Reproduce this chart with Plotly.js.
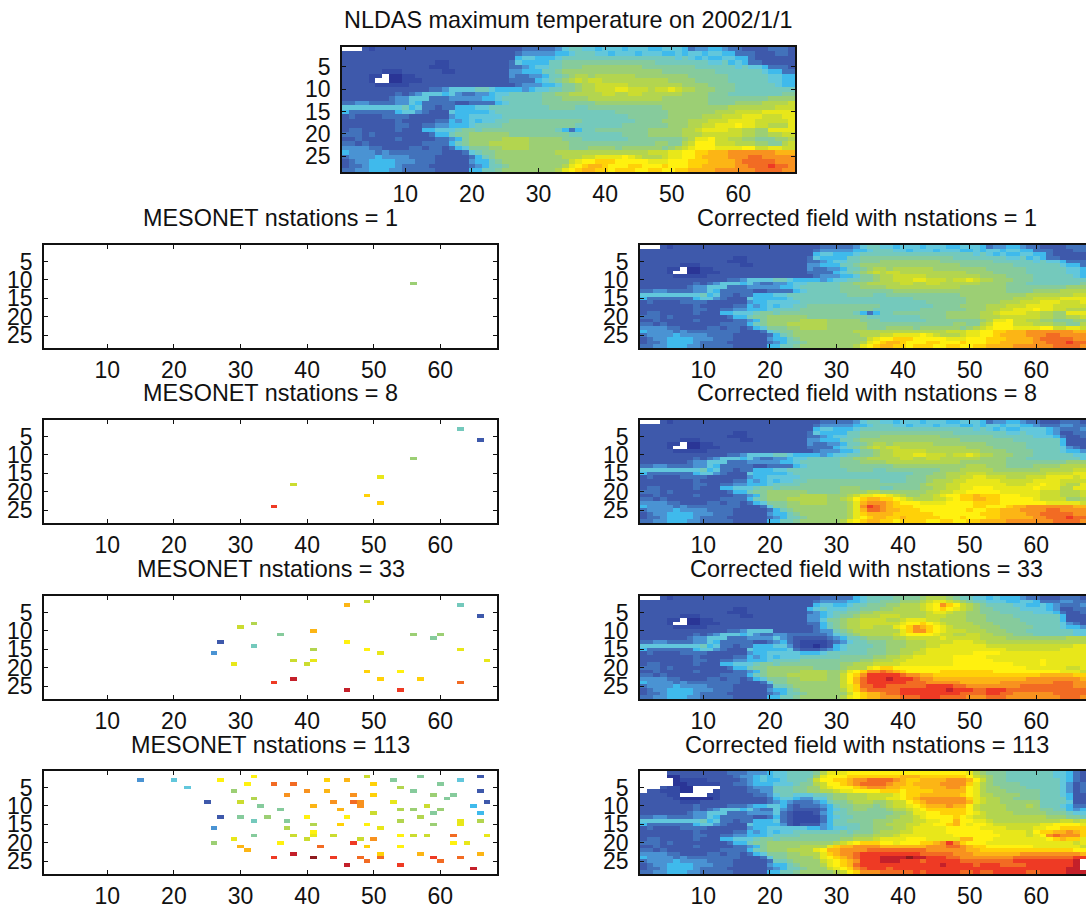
<!DOCTYPE html>
<html>
<head>
<meta charset="utf-8">
<script src="https://cdn.plot.ly/plotly-3.0.1.min.js"></script>
<style>html,body{margin:0;padding:0;background:#fff;overflow:hidden;width:1086px;height:905px}#g{width:1110px;height:905px}</style>
</head>
<body>
<div id="g"></div>
<script>
const levelCodes = 'abcdefghijklmnopqrstu';
const levelColors = ['#2a3596','#344aa4','#3e59ab','#4272bb','#4a93d3','#3fbaec','#62c7dc','#74c9bc','#86cb9c','#9ccf74','#b3d54f','#cbdc30','#e8e71a','#fff10f','#ffd108','#fcb515','#f8921f','#f26b23','#ee3a24','#c4202a','#8e1a1e'];
const xTicks = [10,20,30,40,50,60];
const yTicks = [5,10,15,20,25];

// cols 1-20, rows 1-28
const westRows = [
"...cbccccc cccccccccc","cccccccccc cccccccccc","cccccccccc cccccccccc","cccccccccc ccccbbcccc",
"cccccccccc cccbbbcccc","ccccccbbbc cccccbbccc","ccccbb.aab bccccccccc","ccccb..aab bbcccccccc",
"cccccbbbbb cccccccccc","cccccccccc cccddegggg","ccccccccdc degggfgedd","cccccccdee gggdddeeee",
"ddeeddddee gfdddddccd","gggggggggh fgddcddfff","fdddddddfg gedcccgfff","cdccccdddd cccccceffg",
"ccccccccdc ccccddfefg","ccccccccdd ccddeefffg","cddcccccdc ccffggghii","dddcdccccc cccdffhiij",
"ccdcccccdc ccccddefij","ddcdcccccc ccddddfhij","eeeeddcccc ddcddcdfgi","feeeededdd dddddcccdg",
"deeeefeeee ddddcccccd","cdeeffffee edddccccce","cddeffffed dddccccccd","ddeefffeed ddddcccccf"];

// cols 21-68
const nldasEast = [
"cccccccddd ddeghhggfg ggfgggffgg gfdeeffedd ccccdddc",
"ccccccdeee eeffghhhgg fgggfgggff gfggfggffd ddcccddc",
"ccccccfggf ffghhhhhhh hhhhhhhhhh ghgfgffggf fdcccccc",
"cccccdgfff fhhiiiiiii iiiiiiihhh hhhhhgghfg fddccccc",
"cccccddefg ghhiiijjjj jjjjjiiiii iiihhhhhhg hggfdddc",
"ccccceefff hhijjjjjjj jjjjjjjjii iiiiiihhhh hhhgffdd",
"ccccceddee fhhijkkjkk kkkkjjjjjj jjiiiiiihh hhhhggff",
"cccccddddf ghijklkllk kkkkkkkkkj jjjiiiiihh hhhhggff",
"ccccccdeee ffgiijkkll lllkkkkkkk kjjjjiiiih hhhhhgff",
"hhgffffefg ghhiijkkll lmmlllkllm lkkjjjiiih hhhhhhhh",
"eefgghhhhh iijjkkkkkl lkkllkkkkk kjjjjiiihh hhhhhhii",
"effghhhhhh iiijjjjkkk kkkkkkkkjj jjjjjiiiii iiiijjjj",
"dddfghhhhh iiiiiiiijj jjjjjjjjjj jjjjjiiiij jjjkkkkl",
"gghhhhhhhh hiiiihhiii iiiiiiiijj jjjjjjjjkk kkkkklll",
"ffghhhhhhh hhhhhhhhhh hiiiiiiiij jjjjjjkkkl lllmmmmm",
"gggghhhhhh hhhhhhhhhh hhhiiiiiij jjjjkkklll mmmlllmm",
"fgghhiiiii iiiiiihhhh hhhhiiiijj jjkkklllmm mmlllllm",
"hhhhiiiiii iiiiihhhhh hhiiiiiiij jjkkllmmmn mmllkkkm",
"hiiiiiiiii iihfdfhhii iiiiiijjjj jkklmmmmll kkjjmmmm",
"jjjjjiiiii iiiihhhhhh hhiiiijjjj jkkkllllll kkjjkkll",
"jjjjkkkkjj jjjiiihhhh hhhiiiiiii ijkmmnllkk jjiiijjk",
"jjkkkkkkjj jjjjiiiiii iiiiiiijji iklnnnlllk kkjjiikl",
"iijjkkkkjj jjjjiiijjj jijjjjjjij klmnnnmmmm nnllmmll",
"hiijjjjjjj jjkkkkkkkk kkkkkklllm mnnoopppqq qqqqqppp",
"fhijjjjjjj jjjkkkllmm mmnmlkkklm mnnoppppqq qrrqqqqq",
"ffhijjjjjj jjjjlmnnoo onnnnnmmmn nnoooppppq rrrrrqqq",
"efhhijjjjj jjjkmnoppo nnnoonnnon nnoopppppq qrrrsrrq",
"fhhijjjjjj jjkmnoppoo nooonnoonn ooppppqqqq qqrrrrqq"];

const field8East = [
"cccccccddd ddeghhggfg ggfgggffgg gfdeeffedd cccdddcc",
"ccccccdeee eeffghhhgg fgggfgggff gfggfggffe dddeeddc",
"ccccccfggf ffghhhhhhh hhhhhhhhhh ghgfgffggg gfedddee",
"cccccdgfff fhhiiiiiii iiiiiiihhh hhhhhgghgg gfeccddc",
"cccccddefg ghhiiijjjj jjjjjiiiii iiihhhhhhg ggfdccdd",
"ccccceefff hhijjjjjjj jjjjjjjjii iiiiiihhhh hhhfcccc",
"ccccceddee fhhijkkjkk kkkkjjjjjj jjiiiiiihh hhhfcccc",
"cccccddddf ghijklkllk kkkkkkkkkj jjjiiiiihh hhhgedcd",
"ccccccdeee ffgiijkkll lllkkkkkkk kjjjjiiiih hhhgffee",
"hhgffffefg ghhiijkkll lmmlllkllm lkkjjjiiih hhhhhggg",
"eefgghhhhh iijjkkkkkl lkkllkkkkk kjjjjiiihh hhhhhhgg",
"effghhhhhh iiijjjjkkk kkkkkkkkjj jjjjjiiiii iiiijjjj",
"dddfghhhhh iiiiiiiijj jjjjjjjjjk kkjjjiiiij jjjkkkkl",
"gghhhhhhhh hiiiihhiii iiiiijjjkk kkkjjjjjjj kkkkklll",
"ffghhhhhhh hhhhhhhhhh hiiijjkkkl llkkkkkkkk kllllmmm",
"gggghhhhhh hhhhhhhhhh iiijjjkkll mmlllkkkll lmmmmlmm",
"fgghhiiiii iiiiiihhhh iiijkkkllm mmmmlllllm mmmllllm",
"hhhhiiiiii iiiiiiiiii iijkkkllmm mmmmmlllmm nmmlkkmm",
"hiiiiiiiii jjjiiihhii iijjkkllmm nnnmmmmmmn mmmkkmmm",
"jjjjjiiiii jjjjkkjjjj jjjkkllmmn nnnnmmmmmm lllkkkll",
"jjjjkkkkjj jklmmnnmlk jjkklmnnoo pooonnnmmm lllkkkll",
"jjkkkkkkjj klnoppoonm lkkkllmnoo ppoonnnnnm lllljjkl",
"iijjkkkkjj jkmpqqqpon nnmmmmnnnn oooonnnnnn nmmmmmll",
"iijjjjjjjj jkmqsrqpoo onnnnnnnnn oonnnoppqq qqqqqppp",
"fhijjjjjjj jkmprrqppo oonnnnnnno nnoopppqqq qrrqqqqq",
"ffhijjjjjj jkmoppppoo oooonnnnnn noooppppqq rrrrrqqq",
"efhhijjjjj jkmnoppoop ooooonnnon nnoopppppq qrrrsrrq",
"fhhijjjjjj kmnoppoono ooonnoonno oppppqqqqq qqrrrrqq"];

const field33East = [
"cccccccddd ddfghhhhii iijkkkjihh ggfgfffedd cccdddcc",
"ccccccdeee effghhiiij jjklmmlkji hhgggffggf dddeeddc",
"ccccccfggf fghhiiijjk kklmnqonlk jihhhhggff gfedddee",
"cccccfghgg ghhiiijjkk kklmnonmlk jiihhhhggg gfeccddc",
"cccccdefgh hiijjkkkkk kkklmmlkkj jiiihhhhhg ggfdccdd",
"ccccceefgh iijkkklllk kkklllkkkj jjiiiihhhh hhhfcccc",
"ccccceegii jkkllllkkl mmmllkkkkj jjiiiiihhh hhhfcccc",
"cccccddfhi jkkllllllm nnonmlkkkk jjjiiiiihh hhhgedcd",
"ccccccdfhi jkkllkkkmn oqponmlkkk kjjjiiiiih hhhgffee",
"ccccccdeeh ijkkkkkkkm oqqonmlllk kkjjjiiihh hhhhhggg",
"eeddddddeg hijkkkkklm nnnnmllkkl lkkjjjiiih hhhhhggg",
"gedcccccde fhhijjjjkk lllllmllll lkkkkjjjjj jjjjkkkk",
"efdcbbbbcd eghhiiijjj kkkllllmmm llkkkkkkkk kkkkkkkl",
"ggecbbabcf ghhhhiijjj kkkllmmmmm mmllllllll lllllmmm",
"ffgdcccdef ghhhiiijjk kklmmmmmmm mmmmmlllll lllmmmmm",
"ggggfffghh hhhhiiijjk kllmmmmmmm nnnnmmmmmm mmmmmmmm",
"fggghhhhhh iiiiijjkkl lmmmmmmnnn nnmmmmmmmm mmmmmmmm",
"hhhhiiiiii iiijjkkkll mmmmmmmnnn nnnmmmmmmm nmmmmmmm",
"hiiiiiiiii jjkkkllllm mmmmmmmnnn nnnnnnmmmm nmmmmmmm",
"jjjjjjiiii jkkkmnoonn nnnnnnnnnn nnnnnnnnmm mmmmllmm",
"jjjjkkkkjj kmnoqqrqpo nnnnnooooo ooonnnnnnn nnnmmmll",
"jjkkkkkkjj lnoqsssssr qqppoooooo oooooooooo pppppooo",
"iijjkkkkjj lnprssstss srqqpppppp ppppppppqq qqqqqqpp",
"iijjjjjjjj lnprssssss rrrqqqqqpp ppppqqqqqq qqrrrqqq",
"hhijjjjjjj lmorrssrrr rrrssssrrq qqqqqqqrrr rrrrrqqq",
"ffhijjjjjj kmoqrrrrrs sssssstsss rrsssrrrrr rrrrrrrq",
"efhhijjjjj jlnoppqrrs ssssssssrr rrssrrqqqq qqrrrrrr",
"fhhijjjjjj kmnoppqqqr rrsssrrrrq qqrrrqqqqq qqqrrrqq"];

const field113West = [
"....cccccc cccdddeeef","....aacccc ccccdeefgf",".....abbbb cccccdefgf",".....aabbb bbccddefff",
"...cbbaa.. ..ccccdeee",".ccbbbaa.. .bccccddee","ccccbb.... bbcccccdde","cccccbaaaa abcccccccd",
"ccccccbbbc cccccccccd","ccccccccdc cccdddeffg"].concat(westRows.slice(10));

const field113East = [
"gghhhhikmm mnnnnnnnnn nnnnnnnnnm kjiiihhhhh hhggfdcc",
"gghhhhjmnn noooooooop ppooooooon lkjiihhhhh hhggfdcc",
"fghhhilnno opqqrrrrqp ooppppqqqp nljiihhhhh hhhgfdcc",
"ggghiiklnn opqrrrrqpp oppppqqqqo mkjiiiihhh hhhgecdd",
"hhhiijjlmn nnopqqqppo ooppppqqpn mkjjiiiihh hhhgecdc",
"hhhiijjkkl mmnnnnooon oooopppppn mkjjjiiiii hhhgecdd",
"ghhggghhij jkkkllllmn ooppppppon mkkjjjjiii hhhgfccd",
"fggfeeggij jkkklllmmn opqqqqqqqo mlkkjjiiii hhhhfccd",
"efedddefhi ijkkkjjkll nopqqqqqqp mlkkjjjjjj hhhhgccd",
"gfdcdddefh iijjjijkll mnopppqppn lkkkkjjjkj hhhgfddd",
"gedccccdfg hijjiiijkk lmnoooooon lkkkkjjjjj iihhfeff",
"gdcbbbcefh hiiiiiiijj kmmnnoooon mlkkkkjjjj jiiihggf",
"fdcbbbbdfg hhiiiiijjk klmnnnnonm llkkkkkkkk kjjjiihh",
"gdcbbbbdfh hiiiijjjkk kllmmnnpnn mmlkkkkkkk kkkllkll",
"fecbcccefh hhhiijjkkk llmmnnopnm nnmlllllll mmnnnnmm",
"gggggffefg ghhiijjjkk lmmmmmnnnn nmmmmllllm mnnoooon",
"fgghhhhhhh ihiiijkkkl lmmmmmnnnn nnnmmmmmln ooppqpon",
"hhhhiiiiii iijjjkkklm mmmmmmmnnn nnnnmmmmlm nqrqqqon",
"hiiiiiiiii jjkkklmmmm nnnmmmmmpp nnnmmmmmmm mnopoomm",
"jjjjjjjjjk lmnooonnmn nnoopqsqon nnmmmmmmmm mmmmmlmm",
"jjjjkkkkmo ppqqqqpppp pppqqqrrqp oonnnnnnnm mmmmmmll",
"jjkkkkmnpp qqqqrrrrrr rrrqqqqqqp pooooooooo ooooonnn",
"iijjkkkmop qqrsssssss ssrrrrrqqq pppppppqqq qqqqqqpq",
"iijjjjkmno pqrssstttt uttsssrrqq qqqqqqrrrr rrrrrsst",
"hhijjjjlmn opqsssttts ssrsssssrr rrrrrrssss ssssst..",
"ffhijjjkmn oprsssssss ssssstssss rsssrrrrss ssssst..",
"efhhijjjlm noqrsssrss ssssssssss ssssssssss sssstt..",
"fhhijjjjjk lnoqqqrrrr rsrsssssrr srrsssssrr sssstttu"];

const stations1 = [[56,11,'j']];
const stations8 = [[63,3,'h'],[66,6,'c'],[56,11,'j'],[51,16,'m'],[38,18,'l'],[49,21,'o'],[51,23,'o'],[35,24,'s']];
const stations33 = [[46,3,'p'],[49,2,'l'],[63,3,'h'],[66,6,'c'],[32,8,'k'],[30,9,'l'],[41,10,'p'],[36,11,'i'],[56,11,'j'],[60,11,'j'],[59,12,'i'],[27,13,'c'],[46,13,'n'],[32,14,'h'],[41,15,'k'],[49,15,'n'],[63,15,'m'],[26,16,'e'],[51,16,'m'],[38,18,'l'],[41,18,'m'],[67,18,'m'],[29,19,'m'],[40,19,'l'],[49,21,'o'],[54,21,'n'],[51,23,'o'],[57,23,'o'],[38,23,'t'],[35,24,'s'],[63,24,'r'],[46,26,'t'],[54,26,'s']];
const stations113 = [
[32,2,'n'],[49,2,'l'],[57,2,'i'],[66,2,'c'],
[15,3,'e'],[20,3,'g'],[27,3,'n'],[43,3,'o'],[46,3,'p'],[53,3,'i'],[63,3,'g'],
[31,4,'n'],[35,4,'r'],[38,4,'r'],[50,4,'o'],[60,4,'i'],
[22,5,'g'],[54,5,'k'],
[29,6,'j'],[40,6,'q'],[43,6,'p'],[56,6,'i'],[66,6,'c'],
[37,7,'q'],[47,7,'q'],[50,7,'o'],[59,7,'j'],[62,7,'i'],
[32,8,'k'],[61,8,'i'],
[25,9,'c'],[30,9,'l'],[44,9,'q'],[47,9,'r'],[48,9,'q'],[53,9,'m'],[67,9,'c'],
[33,10,'i'],[41,10,'p'],[48,10,'q'],[58,10,'l'],[65,10,'f'],
[36,11,'i'],[45,11,'p'],[54,11,'k'],[56,11,'j'],[60,11,'j'],
[50,12,'l'],[59,12,'i'],[66,12,'f'],
[27,13,'c'],[30,13,'i'],[34,13,'j'],[40,13,'n'],[46,13,'n'],[57,13,'k'],
[32,14,'h'],[37,14,'i'],[54,14,'k'],[63,14,'m'],[66,14,'k'],
[41,15,'k'],[45,15,'o'],[49,15,'n'],[59,15,'j'],[63,15,'m'],
[26,16,'e'],[37,16,'k'],[51,16,'m'],
[41,17,'n'],
[32,18,'i'],[38,18,'l'],[41,18,'m'],[44,18,'l'],[54,18,'n'],[56,18,'l'],[58,18,'l'],[62,18,'r'],[67,18,'m'],
[29,19,'m'],[40,19,'l'],[48,19,'l'],[50,19,'q'],
[26,20,'j'],[36,20,'n'],[47,20,'s'],[62,20,'n'],[64,20,'m'],
[30,21,'p'],[42,21,'r'],[49,21,'o'],[54,21,'n'],
[31,22,'p'],
[38,23,'t'],[51,23,'o'],[57,23,'p'],[66,23,'p'],
[35,24,'s'],[41,24,'u'],[44,24,'s'],[48,24,'r'],[51,24,'r'],[59,24,'s'],[63,24,'r'],
[49,25,'r'],[60,25,'r'],
[46,26,'t'],[54,26,'s'],
[65,27,'t']];

const NCOL = 68, NROW = 28, FIGW = 1110, FIGH = 905;
const levelValue = c => c === '.' ? null : levelCodes.indexOf(c);
function gridFrom(west, east) {
  return west.map((w, i) => {
    let cells = Array.from((w + east[i]).replace(/ /g, '')).map(levelValue);
    while (cells.length < NCOL) cells.push(cells[cells.length - 1]);
    return cells.slice(0, NCOL);
  });
}
function gridFromStations(list) {
  const z = [];
  for (let r = 0; r < NROW; r++) z.push(new Array(NCOL).fill(null));
  list.forEach(s => { z[s[1] - 1][s[0] - 1] = levelValue(s[2]); });
  return z;
}
const colorscale = levelColors.map((c, i) => [i / (levelColors.length - 1), c]);
const cols = Array.from({length: NCOL}, (_, i) => i + 1);
const rows = Array.from({length: NROW}, (_, i) => i + 1);

const panels = [
  {z: gridFrom(westRows, nldasEast), l: 342, t: 46.5, h: 125.5, title: 'NLDAS maximum temperature on 2002/1/1', ty: 20},
  {z: gridFromStations(stations1), l: 44, t: 245, h: 103, title: 'MESONET nstations = 1', ty: 218},
  {z: gridFrom(westRows, nldasEast), l: 640, t: 245, h: 103, title: 'Corrected field with nstations = 1', ty: 218},
  {z: gridFromStations(stations8), l: 44, t: 420, h: 103, title: 'MESONET nstations = 8', ty: 393},
  {z: gridFrom(westRows, field8East), l: 640, t: 420, h: 103, title: 'Corrected field with nstations = 8', ty: 393},
  {z: gridFromStations(stations33), l: 44, t: 596, h: 103, title: 'MESONET nstations = 33', ty: 569},
  {z: gridFrom(westRows, field33East), l: 640, t: 596, h: 103, title: 'Corrected field with nstations = 33', ty: 569},
  {z: gridFromStations(stations113), l: 44, t: 771, h: 103, title: 'MESONET nstations = 113', ty: 745},
  {z: gridFrom(field113West, field113East), l: 640, t: 771, h: 103, title: 'Corrected field with nstations = 113', ty: 745}
];
const PANEL_W = 453;
const tickFont = {family: '"Liberation Sans", Arial, sans-serif', size: 23, color: '#111'};
const data = [], annotations = [];
const layout = {width: FIGW, height: FIGH, margin: {l: 0, r: 0, t: 0, b: 0}, paper_bgcolor: '#fff', plot_bgcolor: '#fff', showlegend: false};
panels.forEach((p, i) => {
  const n = i === 0 ? '' : String(i + 1);
  data.push({type: 'heatmap', x: cols, y: rows, z: p.z, xaxis: 'x' + n, yaxis: 'y' + n, zmin: 0, zmax: levelColors.length - 1,
    colorscale: colorscale, showscale: false, hoverinfo: 'skip', zsmooth: false});
  const common = {showgrid: false, zeroline: false, showline: true, linecolor: '#111', linewidth: 1.5, mirror: 'allticks',
    ticks: 'inside', ticklen: 4, tickwidth: 1, tickcolor: '#111', tickfont: tickFont, tickmode: 'array', fixedrange: true};
  layout['xaxis' + n] = Object.assign({}, common, {domain: [p.l / FIGW, (p.l + PANEL_W) / FIGW], range: [0.5, 68.5], tickvals: xTicks,
    ticktext: xTicks.map(String), anchor: 'y' + n, ticklabelstandoff: 1});
  layout['yaxis' + n] = Object.assign({}, common, {domain: [1 - (p.t + p.h) / FIGH, 1 - p.t / FIGH], range: [28.5, 0.5], tickvals: yTicks,
    ticktext: yTicks.map(String), anchor: 'x' + n, ticklabelstandoff: 5});
  annotations.push({text: p.title, xref: 'paper', yref: 'paper', x: (p.l + PANEL_W / 2) / FIGW, y: 1 - p.ty / FIGH, xanchor: 'center', yanchor: 'middle',
    showarrow: false, font: {family: '"Liberation Sans", Arial, sans-serif', size: 23.4, color: '#111'}});
});
layout.annotations = annotations;
Plotly.newPlot('g', data, layout, {displayModeBar: false, responsive: false});
</script>
</body>
</html>
